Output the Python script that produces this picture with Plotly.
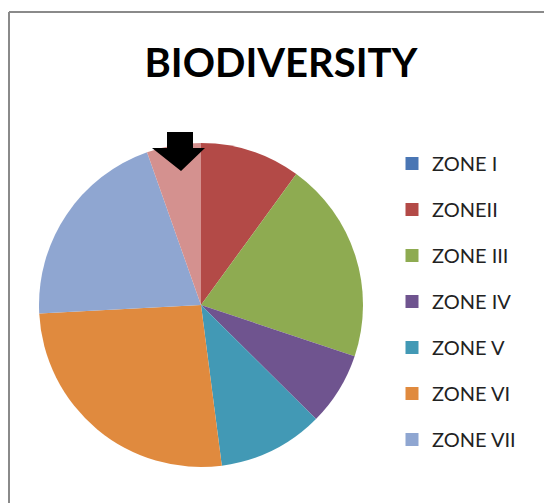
import plotly.graph_objects as go

# ---- data ----
zones = ["ZONE I", "ZONEII", "ZONE III", "ZONE IV", "ZONE V", "ZONE VI", "ZONE VII", "ZONE VIII"]
values = [0, 10.0, 20.1, 7.3, 10.5, 26.2, 20.4, 5.4]
colors = ["#4A76B4", "#B34A47", "#8EAB51", "#6F548F", "#4299B5", "#E08A3E", "#8FA6D1", "#D4918F"]
legend_count = 7  # the eighth slice has no legend entry in the reference

W, H = 544, 503

def px(x):
    return x / W

def py(y):
    return 1 - y / H

fig = go.Figure()

fig.add_trace(go.Pie(
    labels=zones,
    values=values,
    marker=dict(colors=colors, line=dict(width=0)),
    sort=False,
    direction="clockwise",
    rotation=0,
    textinfo="none",
    hoverinfo="label+value",
    showlegend=False,
    domain=dict(x=[px(39), px(363)], y=[py(467), py(143)]),
))

# legend proxies
for name, col in zip(zones[:legend_count], colors[:legend_count]):
    fig.add_trace(go.Scatter(
        x=[None], y=[None], mode="markers", name=name,
        marker=dict(symbol="square", size=13, color=col),
        legendgroup=name, showlegend=True,
    ))

# arrow (decoration)
ax = [167, 193, 193, 205, 181, 152, 167]
ay = [132, 132, 148, 148, 171, 148, 148]
path = "M " + " L ".join(f"{px(a)},{py(b)}" for a, b in zip(ax, ay)) + " Z"

frame = dict(color="#8A8A8A", width=2)

fig.update_layout(
    width=W, height=H,
    margin=dict(l=0, r=0, t=0, b=0),
    paper_bgcolor="white",
    plot_bgcolor="white",
    xaxis=dict(visible=False),
    yaxis=dict(visible=False),
    title=dict(text="<b>BIODIVERSITY</b>", x=px(281), y=py(63), xanchor="center", yanchor="middle",
               font=dict(family="Lato", size=40, color="black")),
    legend=dict(x=px(392), y=py(144), xanchor="left", yanchor="top",
                font=dict(family="Lato", size=20, color="#222"),
                traceorder="grouped", tracegroupgap=17, itemclick=False,
                bgcolor="rgba(0,0,0,0)"),
    shapes=[
        dict(type="line", xref="paper", yref="paper", x0=px(9), y0=py(12), x1=1.2, y1=py(12), line=frame),
        dict(type="line", xref="paper", yref="paper", x0=px(9), y0=py(12), x1=px(9), y1=-0.2, line=frame),
        dict(type="path", xref="paper", yref="paper", path=path, fillcolor="black",
             line=dict(color="black", width=0)),
    ],
)

fig.write_html(
    "out.html",
    config={"displayModeBar": False},
    post_script=(
        "document.documentElement.style.overflow='hidden';"
        "document.body.style.margin='0';"
        "document.body.style.overflow='hidden';"
    ),
)
